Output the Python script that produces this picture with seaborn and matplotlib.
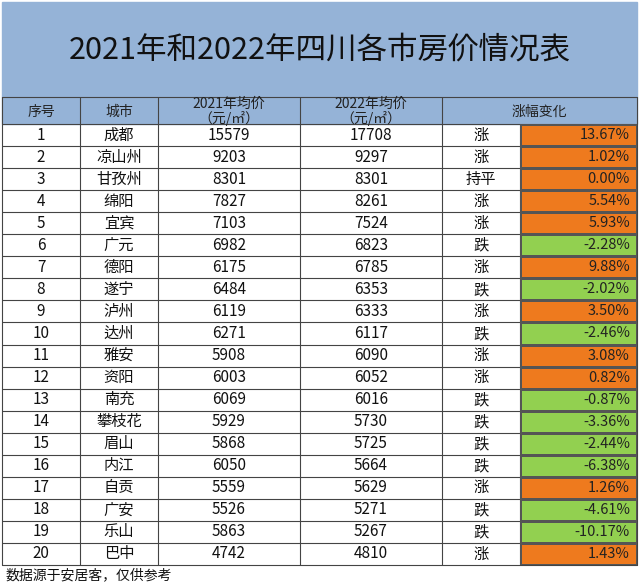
import matplotlib
matplotlib.use("Agg")
import matplotlib.pyplot as plt
from matplotlib import font_manager as fm
import seaborn as sns
import numpy as np
from matplotlib.colors import ListedColormap

sns.set_theme(style="white")
cjk_name = None
for f in fm.findSystemFonts():
    if "CJK" in f or "cjk" in f.lower():
        try:
            fm.fontManager.addfont(f)
        except Exception:
            pass
for fam in ["Noto Sans CJK SC", "Noto Sans CJK JP", "Noto Sans CJK TC", "Noto Sans CJK KR"]:
    if any(e.name == fam for e in fm.fontManager.ttflist):
        cjk_name = fam
        break
plt.rcParams["font.family"] = [cjk_name or "Noto Sans CJK SC", "DejaVu Sans"]
plt.rcParams["font.sans-serif"] = [cjk_name or "Noto Sans CJK SC", "DejaVu Sans"]

title = "2021年和2022年四川各市房价情况表"
headers = ["序号", "城市", "2021年均价\n（元/㎡）", "2022年均价\n（元/㎡）", "涨幅变化"]
cities = ["成都", "凉山州", "甘孜州", "绵阳", "宜宾", "广元", "德阳", "遂宁", "泸州", "达州",
          "雅安", "资阳", "南充", "攀枝花", "眉山", "内江", "自贡", "广安", "乐山", "巴中"]
price_2021 = [15579, 9203, 8301, 7827, 7103, 6982, 6175, 6484, 6119, 6271,
              5908, 6003, 6069, 5929, 5868, 6050, 5559, 5526, 5863, 4742]
price_2022 = [17708, 9297, 8301, 8261, 7524, 6823, 6785, 6353, 6333, 6117,
              6090, 6052, 6016, 5730, 5725, 5664, 5629, 5271, 5267, 4810]
change_pct = [13.67, 1.02, 0.00, 5.54, 5.93, -2.28, 9.88, -2.02, 3.50, -2.46,
              3.08, 0.82, -0.87, -3.36, -2.44, -6.38, 1.26, -4.61, -10.17, 1.43]
trend = ["涨", "涨", "持平", "涨", "涨", "跌", "涨", "跌", "涨", "跌",
         "涨", "涨", "跌", "跌", "跌", "跌", "涨", "跌", "跌", "涨"]
footer = "数据源于安居客，仅供参考"

W, H = 640, 584
fig = plt.figure(figsize=(6.4, 5.84), dpi=100)
ax = fig.add_axes([0, 0, 1, 1])
ax.set_xlim(0, W); ax.set_ylim(H, 0); ax.axis("off")

blue = "#95b3d7"
xs = [2, 80, 158, 300, 442, 520, 637]
y_title0, y_head0, y_rows0 = 2, 97, 124
n = len(cities)
rh = (565 - y_rows0) / n
y_end = y_rows0 + n * rh

ax.add_patch(plt.Rectangle((xs[0], y_title0), xs[-1]-xs[0], y_head0-y_title0, color=blue, zorder=0))
ax.text((xs[0]+xs[-1])/2, 50, title, ha="center", va="center", fontsize=22, color="#111111")
ax.add_patch(plt.Rectangle((xs[0], y_head0), xs[-1]-xs[0], y_rows0-y_head0, color=blue, zorder=0))

hax = fig.add_axes([xs[5]/W, 1-y_end/H, (xs[6]-xs[5])/W, (y_end-y_rows0)/H])
cat = np.array([[1 if v >= 0 else 0] for v in change_pct])
sns.heatmap(cat, ax=hax, cmap=ListedColormap(["#92d050", "#ee7a1e"]), cbar=False,
            annot=np.array([[f"{v:.2f}%"] for v in change_pct]), fmt="",
            annot_kws={"fontsize": 10.5, "color": "#222222", "ha": "right"},
            linewidths=0.8, linecolor="#555555", xticklabels=False, yticklabels=False)
for t in hax.texts:
    x, y = t.get_position()
    t.set_position((0.94, y))

hcent = [(xs[i]+xs[i+1])/2 for i in range(5)]
hcent[4] = (xs[4]+xs[6])/2
for i, h in enumerate(headers):
    ax.text(hcent[i], (y_head0+y_rows0)/2 + 1, h, ha="center", va="center", fontsize=10,
            color="#222222", linespacing=1.05)

for r in range(n):
    yc = y_rows0 + (r+0.5)*rh
    vals = [str(r+1), cities[r], str(price_2021[r]), str(price_2022[r]), trend[r]]
    for i, v in enumerate(vals):
        ax.text((xs[i]+xs[i+1])/2, yc, v, ha="center", va="center", fontsize=11, color="#111111")

lc = "#444444"
for r in range(n+1):
    y = y_rows0 + r*rh
    ax.plot([xs[0], xs[-1]], [y, y], color=lc, lw=0.8)
ax.plot([xs[0], xs[-1]], [y_head0, y_head0], color=lc, lw=0.8)
for i, x in enumerate(xs):
    top = y_rows0 if i == 5 else y_head0
    ax.plot([x, x], [top, y_end], color=lc, lw=0.8)
ax.text(6, 575, footer, ha="left", va="center", fontsize=10, color="#111111")

fig.savefig("out.png", dpi=100)
